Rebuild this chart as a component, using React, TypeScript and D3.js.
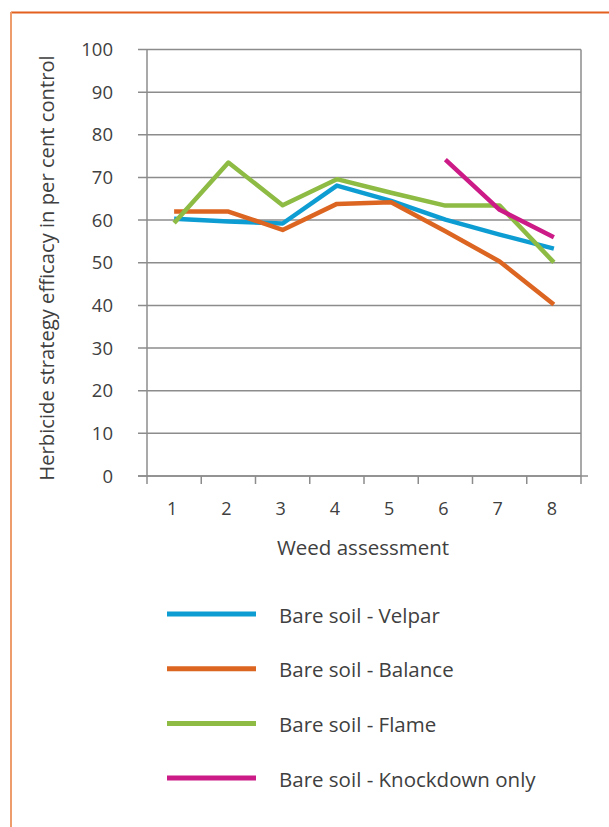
import React from "react";
import * as d3 from "d3";

const categories = ["1", "2", "3", "4", "5", "6", "7", "8"];
const yTicks = [0, 10, 20, 30, 40, 50, 60, 70, 80, 90, 100];
const velpar = [60.3, 59.7, 59.2, 68.1, 64.5, 60.1, 56.6, 53.3];
const balance = [62.0, 62.0, 57.7, 63.8, 64.2, 57.4, 50.3, 40.2];
const flame = [59.3, 73.5, 63.5, 69.6, 66.4, 63.4, 63.4, 50.1];
const knockdown: (number | null)[] = [null, null, null, null, null, 74.2, 62.4, 56.0];
const seriesNames = [
  "Bare soil - Velpar",
  "Bare soil - Balance",
  "Bare soil - Flame",
  "Bare soil - Knockdown only",
];
const seriesColors = ["#0E9DD2", "#DC6521", "#8DBB43", "#CC1B86"];

export default function App() {
  const W = 609;
  const H = 827;
  const left = 147;
  const right = 581;
  const top = 49.5;
  const bottom = 476;
  const font = "'Open Sans', sans-serif";
  const textColor = "#404040";

  const x = d3.scaleBand<string>().domain(categories).range([left, right]);
  const y = d3.scaleLinear().domain([0, 100]).range([bottom, top]);

  const allSeries = [velpar, balance, flame, knockdown];
  const line = d3
    .line<number | null>()
    .defined((d) => d !== null)
    .x((_, i) => (x(categories[i]) as number) + x.bandwidth() / 2)
    .y((d) => y(d as number));

  return (
    <svg
      width={W}
      height={H}
      style={{ position: "absolute", left: 0, top: 0, background: "#fff" }}
    >
      <rect x={0} y={0} width={W} height={H} fill="#fff" />
      {/* page border */}
      <line x1={11} x2={W} y1={12.5} y2={12.5} stroke="#E2611E" strokeWidth={2} />
      <line x1={11} x2={11} y1={12} y2={H} stroke="#EE9C6C" strokeWidth={2} />

      {/* gridlines and y ticks */}
      {yTicks.map((t) => (
        <g key={t}>
          <line
            x1={left - 9}
            x2={right}
            y1={y(t)}
            y2={y(t)}
            stroke="#8C8C8C"
            strokeWidth={1.5}
          />
          <text
            x={113}
            y={y(t)}
            dy="0.36em"
            textAnchor="end"
            fontFamily={font}
            fontSize={18.5}
            fill={textColor}
          >
            {t}
          </text>
        </g>
      ))}
      {/* axes */}
      <line x1={left} x2={left} y1={top} y2={bottom} stroke="#8C8C8C" strokeWidth={1.5} />
      <line x1={right} x2={right} y1={top} y2={bottom} stroke="#8C8C8C" strokeWidth={1.5} />
      <line x1={left - 9} x2={right + 7} y1={bottom} y2={bottom} stroke="#8C8C8C" strokeWidth={1.5} />
      {categories.map((c) => (
        <line
          key={"t" + c}
          x1={x(c) as number}
          x2={x(c) as number}
          y1={bottom}
          y2={bottom + 8}
          stroke="#8C8C8C"
          strokeWidth={1.5}
        />
      ))}
      <line x1={right} x2={right} y1={bottom} y2={bottom + 8} stroke="#8C8C8C" strokeWidth={1.5} />
      {categories.map((c) => (
        <text
          key={"l" + c}
          x={(x(c) as number) + x.bandwidth() / 2 - 2}
          y={515}
          textAnchor="middle"
          fontFamily={font}
          fontSize={18}
          fill={textColor}
        >
          {c}
        </text>
      ))}
      <text
        x={363}
        y={555}
        textAnchor="middle"
        fontFamily={font}
        fontSize={20.5}
        fill={textColor}
      >
        Weed assessment
      </text>
      <text
        transform={`translate(54, ${268}) rotate(-90)`}
        textAnchor="middle"
        fontFamily={font}
        fontSize={20.2}
        fill={textColor}
      >
        Herbicide strategy efficacy in per cent control
      </text>

      {/* series */}
      {allSeries.map((s, i) => (
        <path
          key={"s" + i}
          d={line(s) || ""}
          fill="none"
          stroke={seriesColors[i]}
          strokeWidth={4.5}
          strokeLinejoin="round"
        />
      ))}

      {/* legend */}
      {seriesNames.map((n, i) => (
        <g key={"lg" + i}>
          <line
            x1={167}
            x2={256}
            y1={614 + i * 54.7}
            y2={614 + i * 54.7}
            stroke={seriesColors[i]}
            strokeWidth={5}
          />
          <text
            x={279}
            y={614 + i * 54.7 + 8.5}
            fontFamily={font}
            fontSize={20.5}
            fill={textColor}
          >
            {n}
          </text>
        </g>
      ))}
    </svg>
  );
}
